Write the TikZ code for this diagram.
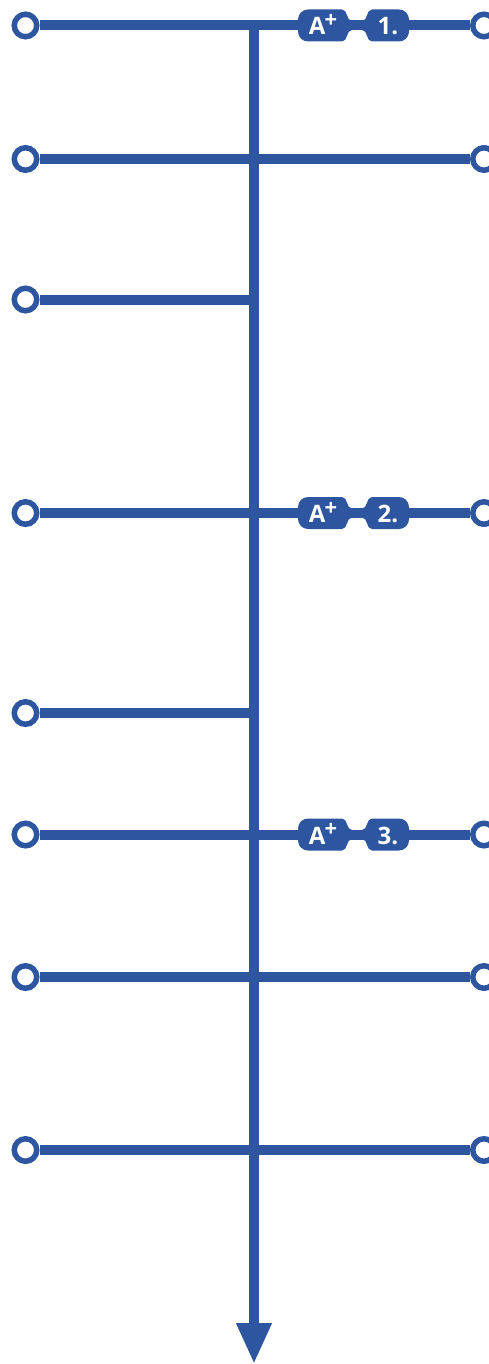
\documentclass[tikz,border=0pt]{standalone}
\usepackage{fontspec}
\setsansfont{Open Sans}
\usetikzlibrary{arrows.meta}
\definecolor{linkblue}{HTML}{2D55A0}
\tikzset{
  port/.style={circle, draw=linkblue, line width=5.5pt, fill=white,
    minimum size=22.5pt, inner sep=0pt},
  wire/.style={draw=linkblue, line width=10pt},
  axis/.style={wire, -{Triangle[width=33pt, length=41pt]}},
  badgetext/.style={text=white, font=\sffamily\bfseries\fontsize{24}{24}\selectfont,
    inner sep=0pt, anchor=base},
  pics/plusbadge/.style={code={
    \fill[linkblue] (-15,-16) to[out=0, in=180] (-5,-4.5) -- (5,-4.5)
      to[out=0, in=180] (15,-16) {[rounded corners=10pt] -- (52,-16) -- (52,16)}
      -- (15,16) to[out=180, in=0] (5,4.5) -- (-5,4.5) to[out=180, in=0] (-15,16)
      {[rounded corners=10pt] -- (-59,16) -- (-59,-16)} -- cycle;
    \node[badgetext] (-plus) at (-34,9.5) {A\kern-1pt\raisebox{7.5pt}{\fontsize{22}{22}\selectfont+}};
    \node[badgetext] (-num) at (31,9.5) {#1};
  }},
}

\begin{document}
\begin{tikzpicture}[x=1pt, y=-1pt]
\useasboundingbox (0,0) rectangle (489,1364);
\clip (0,0) rectangle (489,1364);

% main axis
\coordinate (top) at (254,25.5);
\coordinate (bot) at (254,1364);
\draw[axis] (top) -- (bot);

% ports on the left
\node[port] (l1) at (25.5,25.5) {};
\node[port] (l2) at (25.5,159) {};
\node[port] (l3) at (25.5,299.5) {};
\node[port] (l4) at (25.5,513) {};
\node[port] (l5) at (25.5,713) {};
\node[port] (l6) at (25.5,834.5) {};
\node[port] (l7) at (25.5,977) {};
\node[port] (l8) at (25.5,1150) {};

% ports on the right
\node[port] (r1) at (484,25.5) {};
\node[port] (r2) at (484,159) {};
\node[port] (r4) at (484,513) {};
\node[port] (r6) at (484,834.5) {};
\node[port] (r7) at (484,977) {};
\node[port] (r8) at (484,1150) {};

% branches that stop at the axis
\coordinate (j3) at (254,299.5);
\coordinate (j5) at (254,713);

\draw[wire] (l1) -- (r1);
\draw[wire] (l2) -- (r2);
\draw[wire] (l3) -- (j3);
\draw[wire] (l4) -- (r4);
\draw[wire] (l5) -- (j5);
\draw[wire] (l6) -- (r6);
\draw[wire] (l7) -- (r7);
\draw[wire] (l8) -- (r8);

% A+ badges
\pic (b1) at (357,25.5) {plusbadge=1.};
\pic (b2) at (357,513) {plusbadge=2.};
\pic (b3) at (357,834.5) {plusbadge=3.};
\end{tikzpicture}
\end{document}
